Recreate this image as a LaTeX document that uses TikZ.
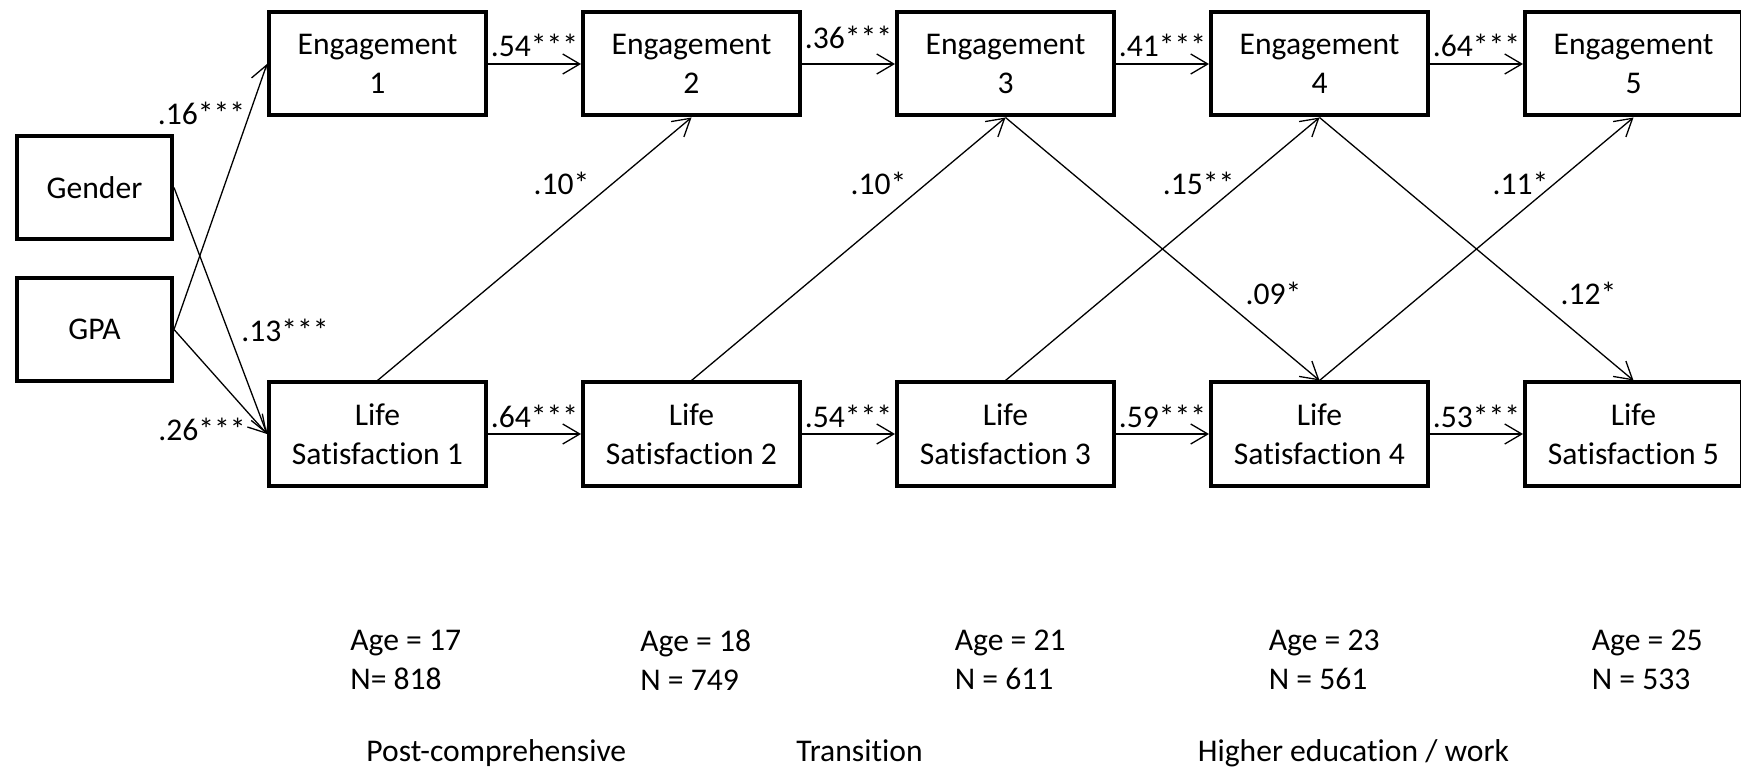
\documentclass[tikz,border=0pt]{standalone}
\usepackage{fontspec}
\setmainfont{Carlito}[Ligatures=NoCommon]
\usepackage{tikz}
\usetikzlibrary{arrows.meta}
\usetikzlibrary{positioning}
\tikzstyle{var} = [rectangle, minimum width=108.5pt, minimum height=51.5pt, text centered, align=center, draw=black, line width=2pt]
\tikzstyle{cov} = [rectangle, minimum width=77.5pt, minimum height=51.5pt, text centered, draw=black, line width=2pt]
\tikzstyle{info} = [anchor=north west, align=left, inner sep=0pt]
\tikzstyle{link} = [line width=0.65pt, ->, >={Straight Barb[length=8.5pt,width=10pt]}]
\tikzstyle{coef} = [inner sep=0pt]

\begin{document}
\begin{tikzpicture}[node distance=46.5pt, font=\fontsize{15.8}{19.5}\selectfont]
  \useasboundingbox (0,0) rectangle (870.5pt,-385pt);

  \node (eng1) [var] at (188.75pt,-32pt) {Engagement\\1};
  \node (eng2) [var, right=of eng1] {Engagement\\2};
  \node (eng3) [var, right=of eng2] {Engagement\\3};
  \node (eng4) [var, right=of eng3] {Engagement\\4};
  \node (eng5) [var, right=of eng4] {Engagement\\5};
  \node (ls1) [var, below=131.5pt of eng1] {Life\\Satisfaction 1};
  \node (ls2) [var, right=of ls1] {Life\\Satisfaction 2};
  \node (ls3) [var, right=of ls2] {Life\\Satisfaction 3};
  \node (ls4) [var, right=of ls3] {Life\\Satisfaction 4};
  \node (ls5) [var, right=of ls4] {Life\\Satisfaction 5};
  \node (gender) [cov] at (47.25pt,-93.75pt) {Gender};
  \node (gpa) [cov, below=17.5pt of gender] {GPA};

  \draw[link] (gpa.east) to node [coef, pos=0.815, left=2pt] {.16***} (eng1.west);
  \draw[link] (gender.east) to node [coef, pos=0.578, right=6.5pt] {.13***} (ls1.west);
  \draw[link] (gpa.east) to node [coef, pos=0.96, left=8.5pt] {.26***} (ls1.west);

  \draw[link] (eng1.east) to node [coef, above=3.5pt] {.54***} (eng2.west);
  \draw[link] (eng2.east) to node [coef, above=7.5pt] {.36***} (eng3.west);
  \draw[link] (eng3.east) to node [coef, above=3.5pt] {.41***} (eng4.west);
  \draw[link] (eng4.east) to node [coef, above=3.5pt] {.64***} (eng5.west);
  \draw[link] (ls1.east) to node [coef, above=3pt] {.64***} (ls2.west);
  \draw[link] (ls2.east) to node [coef, above=3pt] {.54***} (ls3.west);
  \draw[link] (ls3.east) to node [coef, above=3pt] {.59***} (ls4.west);
  \draw[link] (ls4.east) to node [coef, above=3pt] {.53***} (ls5.west);

  \draw[link] (ls1.north) to node [coef, pos=0.75, left=11.5pt] {.10*} (eng2.south);
  \draw[link] (ls2.north) to node [coef, pos=0.75, left=10pt] {.10*} (eng3.south);
  \draw[link] (ls3.north) to node [coef, pos=0.75, left=3pt] {.15**} (eng4.south);
  \draw[link] (ls4.north) to node [coef, pos=0.75, left=3pt] {.11*} (eng5.south);
  \draw[link] (eng3.south) to node [coef, pos=0.67, right=14.5pt] {.09*} (ls4.north);
  \draw[link] (eng4.south) to node [coef, pos=0.67, right=15pt] {.12*} (ls5.north);

  \node (age1) [info] at ([xshift=-13.75pt, yshift=-71pt]ls1.south) {Age = 17\\N= 818};
  \node (age2) [info] at ([xshift=-25.75pt, yshift=-71pt]ls2.south) {Age = 18\\N = 749};
  \node (age3) [info] at ([xshift=-25.5pt, yshift=-71pt]ls3.south) {Age = 21\\N = 611};
  \node (age4) [info] at ([xshift=-25.5pt, yshift=-71pt]ls4.south) {Age = 23\\N = 561};
  \node (age5) [info] at ([xshift=-21pt, yshift=-71pt]ls5.south) {Age = 25\\N = 533};

  \node (phase1) [info] at ([xshift=8pt, yshift=-55pt]age1.north west) {Post-comprehensive};
  \node (phase2) [info] at ([xshift=78pt, yshift=-55pt]age2.north west) {Transition};
  \node (phase3) [info] at ([xshift=-35.5pt, yshift=-55pt]age4.north west) {Higher education / work};
\end{tikzpicture}
\end{document}
